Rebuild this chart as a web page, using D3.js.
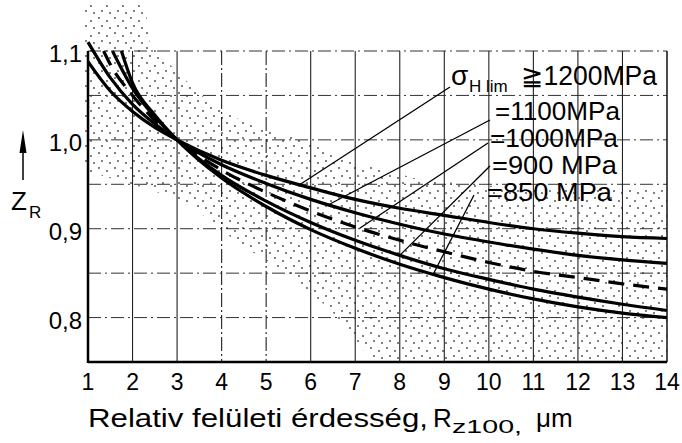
<!DOCTYPE html>
<html>
<head>
<meta charset="utf-8">
<title>Z_R - Relativ feluleti erdesseg</title>
<style>
	body { margin: 0; background: #fff; }
	svg { display: block; font-family: 'Liberation Sans', Arial, sans-serif; }
</style>
</head>
<body>
<svg width="682" height="443"></svg>
<script src="https://d3js.org/d3.v7.min.js"></script>
<script>
	// tick values / labels
	const xTicks = [1, 2, 3, 4, 5, 6, 7, 8, 9, 10, 11, 12, 13, 14]
	const yTicks = [0.8, 0.9, 1.0, 1.1]
	const yTickLabels = ['0,8', '0,9', '1,0', '1,1']
	const yGrid = [0.8, 0.85, 0.9, 0.95, 1.0, 1.05, 1.1]

	// curves: [Rz100, Z_R]
	const curve1200 = [[1, 1.088], [1.5, 1.055], [2, 1.032], [2.5, 1.014], [3, 1.0], [4, 0.977], [5, 0.960], [6, 0.946], [7, 0.933], [8, 0.923], [9, 0.915], [10, 0.907], [11, 0.900], [12, 0.895], [13, 0.891], [14, 0.889]]
	const curve1100 = [[1, 1.11], [1.5, 1.07], [2, 1.04], [2.5, 1.018], [3, 1.0], [4, 0.972], [5, 0.951], [6, 0.933], [7, 0.918], [8, 0.905], [9, 0.894], [10, 0.885], [11, 0.877], [12, 0.870], [13, 0.865], [14, 0.861]]
	const curve1000 = [[1.35, 1.1], [1.5, 1.085], [2, 1.05], [2.5, 1.022], [3, 1.0], [4, 0.966], [5, 0.941], [6, 0.920], [7, 0.902], [8, 0.887], [9, 0.874], [10, 0.862], [11, 0.852], [12, 0.845], [13, 0.838], [14, 0.832]]
	const curve900 = [[1.55, 1.1], [2, 1.058], [2.5, 1.026], [3, 1.0], [4, 0.960], [5, 0.931], [6, 0.907], [7, 0.887], [8, 0.870], [9, 0.855], [10, 0.843], [11, 0.832], [12, 0.823], [13, 0.815], [14, 0.808]]
	const curve850 = [[1.75, 1.1], [2, 1.064], [2.5, 1.028], [3, 1.0], [4, 0.957], [5, 0.925], [6, 0.899], [7, 0.878], [8, 0.860], [9, 0.845], [10, 0.832], [11, 0.821], [12, 0.812], [13, 0.805], [14, 0.800]]

	const seriesNames = ['≧1200MPa', '=1100MPa', '=1000MPa', '=900 MPa', '=850 MPa']
	const seriesCurves = [curve1200, curve1100, curve1000, curve900, curve850]
	const seriesDashed = [false, false, true, false, false]

	// stippled scatter band
	const bandTop = [[0.93, 1.152], [2.28, 1.152], [2.39, 1.107], [3.52, 1.051], [4.42, 1.022], [5.76, 1.0], [6.89, 0.977], [8.46, 0.955], [9.81, 0.949], [11.6, 0.944], [14, 0.944]]
	const bandBottom = [[14, 0.75], [7.4, 0.75], [6.44, 0.809], [5.47, 0.85], [4.42, 0.882], [3.29, 0.927], [2.39, 0.944], [1, 0.964], [0.93, 0.964]]

	let svg = d3.select('svg')

	let x = d3.scaleLinear().domain([1, 14]).range([88, 667])
	let y = d3.scaleLinear().domain([0.75, 1.1]).range([362, 51])

	// dot pattern (sparse)
	let pat = svg.append('defs').append('pattern')
		.attr('id', 'stipple')
		.attr('patternUnits', 'userSpaceOnUse')
		.attr('width', 16)
		.attr('height', 15)
	const dots = [[3, 3], [11, 6], [6, 11], [14, 13]]
	dots.forEach(d => {
		pat.append('circle').attr('cx', d[0]).attr('cy', d[1]).attr('r', 0.9).attr('fill', '#444')
	})

	let band = bandTop.concat(bandBottom)
	svg.append('path')
		.attr('d', d3.line().x(d => x(d[0])).y(d => y(d[1]))(band) + 'Z')
		.attr('fill', 'url(#stipple)')

	// grid
	svg.append('g')
		.selectAll('line')
		.data(yGrid)
		.join('line')
		.attr('x1', x(1)).attr('x2', x(14))
		.attr('y1', d => y(d)).attr('y2', d => y(d))
		.style('stroke', '#333')
		.style('stroke-width', 1)
		.style('stroke-dasharray', '13,4,2,4')

	svg.append('g')
		.selectAll('line')
		.data(xTicks.slice(1, -1))
		.join('line')
		.attr('x1', d => x(d)).attr('x2', d => x(d))
		.attr('y1', y(1.1)).attr('y2', y(0.75))
		.style('stroke', '#222')
		.style('stroke-width', 1.1)
		.style('stroke-dasharray', d => (d == 4 || d == 5) ? '14,3,2,3' : null)

	// frame
	svg.append('line')
		.attr('x1', x(14)).attr('x2', x(14)).attr('y1', y(1.1)).attr('y2', y(0.75))
		.style('stroke', '#111').style('stroke-width', 1.5)
	svg.append('line')
		.attr('x1', x(1)).attr('x2', x(1)).attr('y1', y(1.1)).attr('y2', y(0.75) + 1)
		.style('stroke', '#000').style('stroke-width', 2.5)
	svg.append('line')
		.attr('x1', x(1)).attr('x2', x(14)).attr('y1', y(0.75)).attr('y2', y(0.75))
		.style('stroke', '#000').style('stroke-width', 2.5)

	// curves
	let line = d3.line()
		.x(d => x(d[0]))
		.y(d => y(d[1]))
		.curve(d3.curveMonotoneX)

	svg.append('g')
		.selectAll('path')
		.data(seriesCurves)
		.join('path')
		.attr('d', line)
		.style('fill', 'none')
		.style('stroke', '#000')
		.style('stroke-width', 3.2)
		.style('stroke-dasharray', (d, i) => seriesDashed[i] ? '16,9' : null)

	// value on a curve, for leader ends
	function valueAt(curve, xv) {
		for (let i = 1; i < curve.length; i++) {
			if (curve[i][0] >= xv) {
				let a = curve[i - 1], b = curve[i]
				return a[1] + (b[1] - a[1]) * (xv - a[0]) / (b[0] - a[0])
			}
		}
		return curve[curve.length - 1][1]
	}

	// leader lines: start (px) -> point on curve at given Rz
	const leaders = [
		{ from: [450, 87], at: 5.75 },
		{ from: [490, 120], at: 6.4 },
		{ from: [488, 143], at: 7.1 },
		{ from: [490, 166], at: 8.0 },
		{ from: [474, 195], at: 8.75 }
	]
	leaders.forEach((l, i) => {
		svg.append('line')
			.attr('x1', l.from[0]).attr('y1', l.from[1])
			.attr('x2', x(l.at)).attr('y2', y(valueAt(seriesCurves[i], l.at)))
			.style('stroke', '#000')
			.style('stroke-width', 1.3)
	})

	// legend labels
	let lab = svg.append('g').style('fill', '#000')
	lab.append('text').attr('x', 451).attr('y', 85).style('font-size', '28px').text('σ')
	lab.append('text').attr('x', 469).attr('y', 92).style('font-size', '17px').text('H lim')
	lab.append('text').attr('x', 521).attr('y', 85).style('font-size', '27px')
		.attr('textLength', 136).attr('lengthAdjust', 'spacingAndGlyphs').text(seriesNames[0])

	const labelPos = [null, [495, 120, 125], [490, 147, 128], [492, 174, 125], [487, 201, 125]]
	for (let i = 1; i < seriesNames.length; i++) {
		let p = labelPos[i]
		lab.append('text')
			.attr('x', p[0]).attr('y', p[1])
			.attr('textLength', p[2]).attr('lengthAdjust', 'spacingAndGlyphs')
			.style('font-size', '25px')
			.text(seriesNames[i])
	}

	// tick labels
	svg.append('g')
		.selectAll('text')
		.data(xTicks)
		.join('text')
		.attr('x', d => x(d))
		.attr('y', 390)
		.attr('text-anchor', 'middle')
		.style('font-size', '23px')
		.text(d => d)

	svg.append('g')
		.selectAll('text')
		.data(yTicks)
		.join('text')
		.attr('x', 82)
		.attr('y', d => y(d) + 11)
		.attr('text-anchor', 'end')
		.style('font-size', '24px')
		.text((d, i) => yTickLabels[i])

	// y title with arrow
	svg.append('line')
		.attr('x1', 23).attr('x2', 23).attr('y1', 180).attr('y2', 148)
		.style('stroke', '#000').style('stroke-width', 1.5)
	svg.append('path')
		.attr('d', 'M23,130 L19.5,153 L26.5,153 Z')
		.style('fill', '#000')
	svg.append('text').attr('x', 11).attr('y', 210).style('font-size', '26px').text('Z')
	svg.append('text').attr('x', 29).attr('y', 218).style('font-size', '17px').text('R')

	// x title
	svg.append('text').attr('x', 88).attr('y', 427).style('font-size', '26px')
		.attr('textLength', 340).attr('lengthAdjust', 'spacingAndGlyphs')
		.text('Relativ felületi érdesség,')
	svg.append('text').attr('x', 433).attr('y', 427).style('font-size', '26px').text('R')
	svg.append('text').attr('x', 452).attr('y', 433).style('font-size', '19px')
		.attr('textLength', 70).attr('lengthAdjust', 'spacingAndGlyphs').text('z100,')
	svg.append('text').attr('x', 536).attr('y', 427).style('font-size', '26px').text('μm')
</script>
</body>
</html>
